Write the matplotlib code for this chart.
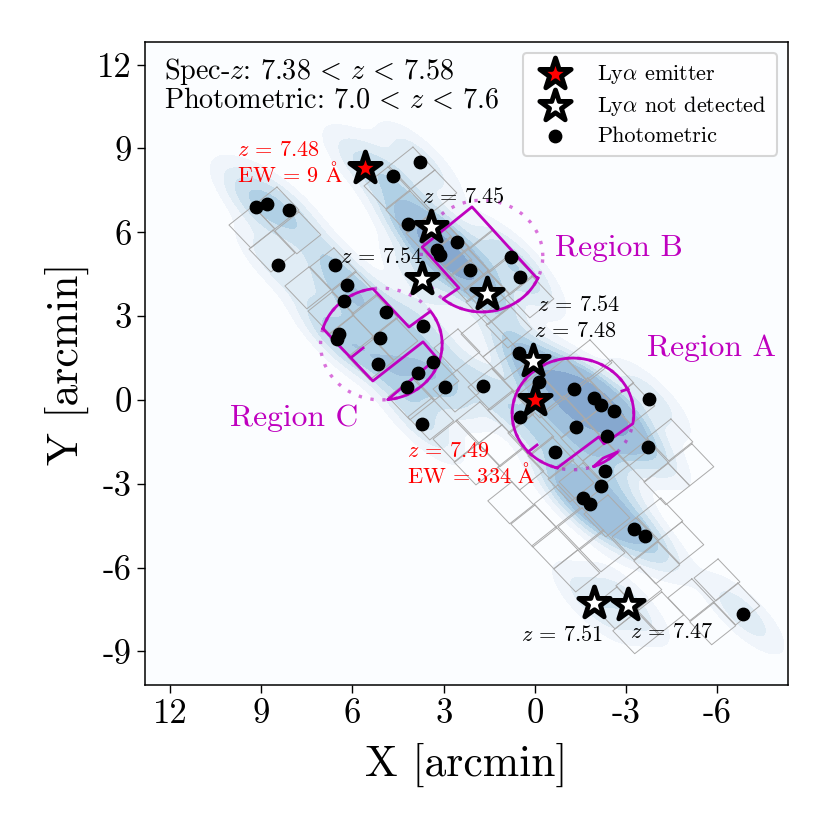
import matplotlib
matplotlib.use('Agg')
import matplotlib.pyplot as plt
from matplotlib.colors import BoundaryNorm, ListedColormap
import numpy as np
import seaborn as sns

plt.rcParams['font.family'] = ['cmr10', 'DejaVu Serif']
plt.rcParams['mathtext.fontset'] = 'cm'
plt.rcParams['axes.unicode_minus'] = False

# --------------------------------------------------------------------------------------------------------------------
#                                           Data (arcmin)
# --------------------------------------------------------------------------------------------------------------------
phot_x = [3.78, 4.67, 9.17, 8.81, 8.09, 8.45, 6.57, 6.18, 6.28, 4.90, 3.68, 6.44, 6.51, 5.10, 5.16, 3.35,
          3.85, 4.21, 2.96, 1.71, 4.17, 3.22, 3.12, 2.56, 2.14, 0.79, 0.49, 0.53, -0.13, 0.49, -1.28, -1.94,
          -2.17, -2.60, -3.75, -1.35, -2.37, -3.71, -0.66, -2.30, -2.17, -1.58, -1.81, -3.25, -3.62, 3.71, -6.84]
phot_y = [8.52, 8.01, 6.91, 7.01, 6.80, 4.83, 4.83, 4.11, 3.54, 3.15, 2.65, 2.36, 2.18, 2.22, 1.29, 1.36,
          0.97, 0.47, 0.47, 0.50, 6.30, 5.37, 5.19, 5.65, 4.65, 5.12, 4.40, 1.68, 0.64, -0.61, 0.39, 0.07,
          -0.18, -0.39, 0.04, -0.97, -1.29, -1.68, -1.86, -2.54, -3.08, -3.51, -3.72, -4.62, -4.87, -0.86, -7.66]

emitter_x = [5.59, 0.0]
emitter_y = [8.30, 0.0]
nondet_x = [3.42, 3.71, 1.58, 0.07, -1.94, -3.06]
nondet_y = [6.19, 4.33, 3.79, 1.40, -7.26, -7.33]

# where the density in the picture is higher than the plotted sources alone give
extra_x = [-1.3, -1.9, -2.2, -2.6, -1.35, -0.8, -1.6, -2.4, 3.2, 2.7, 2.2, 3.4, -1.2, -1.9, -2.5, -0.9]
extra_y = [0.4, 0.1, -0.2, -0.4, -0.97, 0.5, -0.4, -0.9, 5.3, 4.9, 4.6, 5.7, -3.4, -3.9, -4.3, 0.0]

# top corner of every detector tile
tile_x = [-6.02, -6.67, -5.16, -5.88, -4.17, -3.45, -3.35, -2.70, 0.76, 0.00, -0.69, -1.41, -0.76, -1.55, -2.24,
          -2.40, -3.32, -4.14, -4.83, -4.04, -4.47, -5.16, -3.68, -4.37, -3.22, -2.53, -1.81, -1.02, -1.74, -2.43,
          -3.16, -0.23, -0.95, -1.64, -2.37, -1.58, 0.62, 1.41, 0.76, 0.10, -0.56, -1.22, 0.92, 1.64, 2.53, 2.56,
          1.81, 1.08, 0.43, 3.39, 4.04, 3.22, 2.56, 1.87, 4.57, 5.23, 5.36, 5.98, 5.88, 6.67, 6.61, 7.43, 7.76,
          8.61, 8.48, 9.27, 4.01, 4.83, 3.29, 4.11, 3.45, 2.79, 2.14, 1.48, 0.82, 2.07, 1.41, 0.76, 0.10, 2.86,
          2.20, 1.55]
tile_y = [-5.69, -6.55, -6.40, -7.26, -6.87, -5.97, -7.58, -6.69, -2.93, -3.76, -4.54, -5.37, -3.04, -3.86, -4.65,
          -3.40, -4.22, -3.51, -4.36, -5.08, -0.68, -1.57, -1.43, -2.25, 0.61, 1.43, 2.15, 1.50, 0.79, -0.04,
          -0.86, 0.86, 0.14, -0.68, -1.50, -2.25, 1.79, 1.14, 0.32, -0.50, -1.32, -2.15, 2.22, 3.04, 2.54, 1.07,
          -0.07, -0.89, -1.72, 0.07, 0.79, 1.50, -0.72, -1.54, 2.93, 3.76, 2.22, 3.04, 4.58, 3.86, 5.44, 4.76, 6.73,
          6.08, 7.62, 6.94, 9.05, 8.34, 8.23, 7.48, 6.65, 5.83, 5.01, 4.19, 3.36, 6.91, 6.08, 5.26, 4.44, 6.26,
          5.44, 4.62]
tile_u = (-0.79, 0.68)
tile_v = (-0.72, -0.82)

region_radius = 2.0
region_a = (-1.25, -0.5)
region_b = (1.74, 5.15)
region_c = (5.05, 2.0)

xticks = [12, 9, 6, 3, 0, -3, -6]
yticks = [12, 9, 6, 3, 0, -3, -6, -9]

# iso-proportions of the density and the colours between them
density_levels = [0.03, 0.1, 0.22, 0.38, 0.58, 0.84, 1.0]
density_colors = ['#f0f5fb', '#e0ecf5', '#cbe0ee', '#b0d0e5', '#9fc0dc', '#86a8cf']

MAGENTA = '#bf00bf'


def arc(center, a0, a1):
    # angles as seen on the page, the X axis runs right to left
    t = np.radians(np.linspace(a0, a1, 60))
    return np.column_stack([center[0] - region_radius * np.cos(t), center[1] + region_radius * np.sin(t)])


def outline(ax, pts, **kw):
    pts = np.vstack(pts)
    ax.plot(pts[:, 0], pts[:, 1], color=MAGENTA, lw=2.0, zorder=4, solid_joinstyle='round', **kw)


# --------------------------------------------------------------------------------------------------------------------
#                                           The figure
# --------------------------------------------------------------------------------------------------------------------
fig = plt.figure(figsize=(8.3, 8.3), dpi=100)
ax = fig.add_axes([145 / 830, 145 / 830, 643 / 830, 643 / 830])
ax.set_facecolor('#fbfdff')

# density of all the sources
all_x = phot_x + emitter_x + nondet_x + extra_x
all_y = phot_y + emitter_y + nondet_y + extra_y
sns.kdeplot(x=all_x, y=all_y, fill=True, cmap=ListedColormap(density_colors), levels=density_levels, bw_adjust=0.47,
            gridsize=300, ax=ax, zorder=1, linewidths=0)
# one colour per layer, the density levels are not evenly spaced
cset = ax.collections[0]
cset.set_norm(BoundaryNorm(cset.levels, len(density_colors)))

# detector tiles
for tx, ty in zip(tile_x, tile_y):
    cx = [tx, tx + tile_v[0], tx + tile_v[0] - tile_u[0], tx - tile_u[0], tx]
    cy = [ty, ty + tile_v[1], ty + tile_v[1] - tile_u[1], ty - tile_u[1], ty]
    ax.plot(cx, cy, color='#aaaaaa', lw=0.7, zorder=2)

# dotted circles
for center in [region_a, region_b, region_c]:
    circ = arc(center, 0, 360)
    ax.plot(circ[:, 0], circ[:, 1], ls=(0, (1, 2.6)), color=MAGENTA, alpha=0.55, lw=2.4, zorder=3)

# region A
outline(ax, [arc(region_a, 255, -10), [(-2.27, -1.57), (-2.10, -1.32)], arc(region_a, 255, 254)])
outline(ax, [[(0.23, -1.86), (-0.07, -1.61)]])
outline(ax, [[(-2.86, 0.32), (-3.06, 0.39)]])
outline(ax, [arc(region_a, -70, -43), [(-2.24, -2.08)], arc(region_a, -70, -69)])

# region B
outline(ax, [arc(region_b, -24, -130), [(2.50, 4.01), (3.71, 5.47), (2.07, 6.91)], arc(region_b, -24, -23)])

# region C
outline(ax, [arc(region_c, 164, 98), [(4.14, 2.61)], arc(region_c, 36, -84), [(3.22, 1.50), (3.68, 2.08), (5.33, 0.68)],
             arc(region_c, 164, 163)])
outline(ax, [[(6.02, 1.54), (5.65, 1.86)]])

ax.scatter(phot_x, phot_y, s=80, color='k', zorder=5, label='Photometric')
ax.scatter(emitter_x, emitter_y, marker='*', s=560, facecolor='r', edgecolor='k', lw=3.5, zorder=6,
           label=r'Ly$\alpha$ emitter')
ax.scatter(nondet_x, nondet_y, marker='*', s=560, facecolor='w', edgecolor='k', lw=3.5, zorder=6,
           label=r'Ly$\alpha$ not detected')

# labels
ax.text(9.81, 8.94, r'$z$ = 7.48', color='r', fontsize=16, va='center', zorder=7)
ax.text(9.81, 8.12, r'EW = 9 $\mathrm{\AA}$', color='r', fontsize=16, va='center', zorder=7)
ax.text(4.22, -1.82, r'$z$ = 7.49', color='r', fontsize=16, va='center', zorder=7)
ax.text(4.22, -2.68, r'EW = 334 $\mathrm{\AA}$', color='r', fontsize=16, va='center', zorder=7)
ax.text(3.71, 7.26, r'$z$ = 7.45', fontsize=16, va='center', zorder=7)
ax.text(6.41, 5.12, r'$z$ = 7.54', fontsize=16, va='center', zorder=7)
ax.text(-0.07, 3.40, r'$z$ = 7.54', fontsize=16, va='center', zorder=7)
ax.text(0.03, 2.47, r'$z$ = 7.48', fontsize=16, va='center', zorder=7)
ax.text(0.46, -8.41, r'$z$ = 7.51', fontsize=16, va='center', zorder=7)
ax.text(-3.12, -8.30, r'$z$ = 7.47', fontsize=16, va='center', zorder=7)
ax.text(-0.66, 5.44, 'Region B', color=MAGENTA, fontsize=22.7, va='center', zorder=7)
ax.text(-3.68, 1.86, 'Region A', color=MAGENTA, fontsize=22.7, va='center', zorder=7)
ax.text(10.03, -0.64, 'Region C', color=MAGENTA, fontsize=22.7, va='center', zorder=7)
ax.text(12.2, 11.74, r'Spec-$z$: $7.38\,<\,z\,<\,7.58$', fontsize=20.3, va='center', zorder=7)
ax.text(12.2, 10.70, r'Photometric: $7.0\,<\,z\,<\,7.6$', fontsize=20.3, va='center', zorder=7)

handles, labels = ax.get_legend_handles_labels()
order = [1, 2, 0]
leg = ax.legend([handles[i] for i in order], [labels[i] for i in order], loc='upper right', fontsize=16,
                bbox_to_anchor=(0.983, 0.983), borderaxespad=0, labelspacing=0.37, handletextpad=0.9, borderpad=0.45,
                scatterpoints=1)
leg.get_frame().set_linewidth(1.5)

ax.set_xlim(12.82, -8.32)
ax.set_ylim(-10.2, 12.81)
ax.set_xticks(xticks)
ax.set_xticklabels([str(v) for v in xticks])
ax.set_yticks(yticks)
ax.set_yticklabels([str(v) for v in yticks])
ax.tick_params(labelsize=25, length=6, width=1)
ax.set_xlabel('X [arcmin]', fontsize=31.5, labelpad=9)
ax.set_ylabel('Y [arcmin]', fontsize=31.5, labelpad=6)
for s in ax.spines.values():
    s.set_linewidth(1.1)

fig.savefig('out.png', dpi=100)
